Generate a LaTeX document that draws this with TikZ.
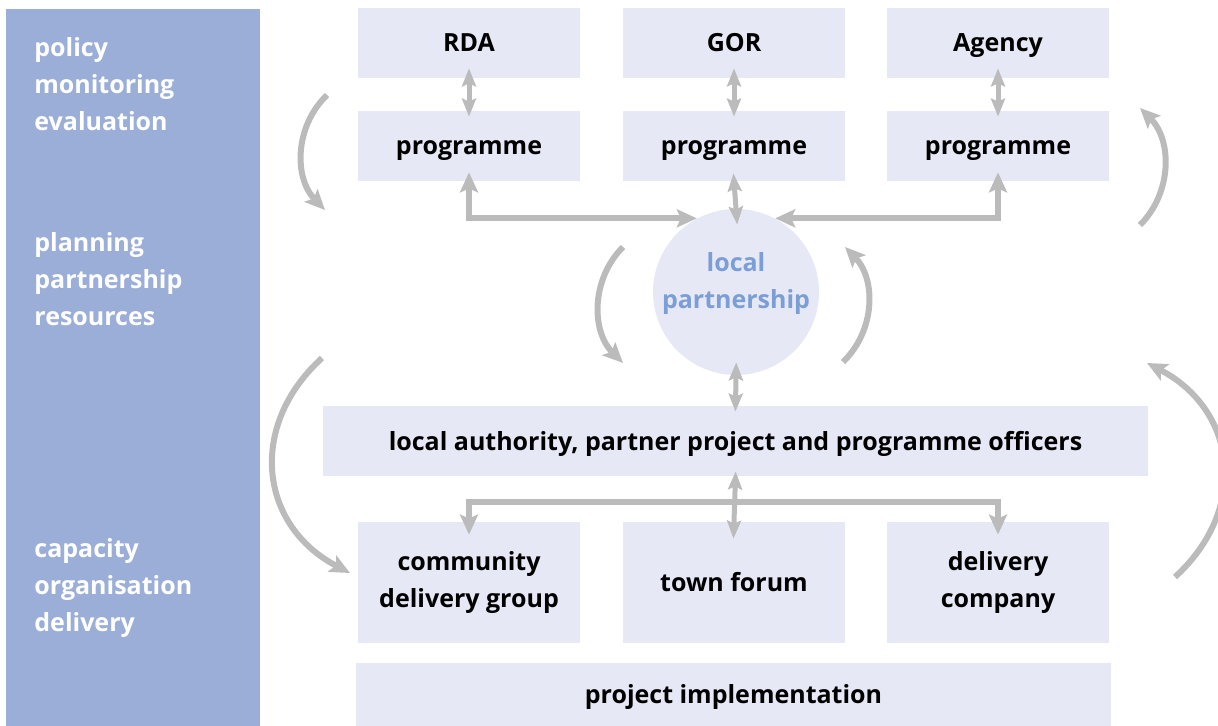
\documentclass[tikz,border=0pt]{standalone}
\usepackage{fontspec}
\setmainfont{Open Sans}
\usepackage{xcolor}
\usepackage{tikz}
\usetikzlibrary{arrows.meta, positioning, calc}

\definecolor{bandblue}{HTML}{9AAED8}
\definecolor{boxfill}{HTML}{E6E9F5}
\definecolor{arrowgray}{HTML}{BBBBBB}
\definecolor{hubblue}{HTML}{7B9ED6}

\begin{document}
\begin{tikzpicture}[
  x=0.5pt, y=-0.5pt,
  every node/.style={font=\fontsize{12.5}{18.5}\selectfont\bfseries},
  box/.style={rectangle, fill=boxfill, inner sep=0pt, align=center,
              minimum width=111pt, minimum height=35pt},
  oneline/.style={text height=11pt, text depth=2pt},
  tallbox/.style={box, minimum height=60.5pt},
  band/.style={rectangle, fill=bandblue, inner sep=0pt,
               minimum width=127pt, minimum height=358.5pt},
  bandtext/.style={white, align=left, anchor=west, inner sep=0pt},
  hub/.style={circle, fill=boxfill, inner sep=0pt, minimum size=83pt},
  arr/.style={->, >={Stealth[length=10pt, width=9pt, inset=2pt]},
              line width=3pt, draw=arrowgray},
  dbl/.style={<->, >={Stealth[length=9pt, width=7pt, inset=1.5pt]},
              line width=2.5pt, draw=arrowgray},
]
  \useasboundingbox (0,0) rectangle (1218,726);

  % left band with the three levels
  \node[band] (band) at (133,367.5) {};
  \node[bandtext] (lvlpolicy)   at (34,84)  {policy\\monitoring\\evaluation};
  \node[bandtext] (lvlplanning) at (34,279) {planning\\partnership\\resources};
  \node[bandtext] (lvlcapacity) at (34,588) {capacity\\organisation\\delivery};

  % top: bodies and their programmes
  \node[box, oneline] (rda)    at (469,43)  {RDA};
  \node[box, oneline] (gor)    at (734,43)  {GOR};
  \node[box, oneline] (agency) at (998,43)  {Agency};
  \node[box, oneline] (prog1)  at (469,146) {programme};
  \node[box, oneline] (prog2)  at (734,146) {programme};
  \node[box, oneline] (prog3)  at (998,146) {programme};

  % middle
  \node[hub] (lp) at (736,292) {};
  \node[text=hubblue, align=center] (lptext) at (736,284) {local\\partnership};
  \node[box, oneline, minimum width=412.5pt] (officers) at (735.5,441)
        {local authority, partner project and programme officers};

  % bottom: delivery bodies
  \node[tallbox] (cdg)   at (469,582.5) {community\\delivery group};
  \node[tallbox, oneline] (forum) at (734,582.5) {town forum};
  \node[tallbox] (dco)   at (998,582.5) {delivery\\company};
  \node[box, oneline, minimum width=377.5pt, minimum height=31.5pt] (impl)
        at (733.5,694.5) {project implementation};

  % Arrows
  \draw[dbl, shorten <=-5pt, shorten >=-3pt] (rda.south)    -- (prog1.north);
  \draw[dbl, shorten <=-5pt, shorten >=-3pt] (gor.south)    -- (prog2.north);
  \draw[dbl, shorten <=-5pt, shorten >=-3pt] (agency.south) -- (prog3.north);
  \draw[dbl, shorten <=-4pt, shorten >=-8pt] (prog2.south)  -- (lp.north);
  \draw[arr, <->, shorten >=-4.5pt] (lp.118) -| (prog1.south);
  \draw[arr, <->, shorten >=-4.5pt] (lp.62)  -| (prog3.south);

  \draw[dbl, shorten <=-6.5pt, shorten >=-3pt] (lp.south) -- (officers.north);
  \draw[dbl, shorten <=-2.5pt, shorten >=-8.5pt] (officers.south) -- (forum.north);
  \coordinate (split) at (736,502);
  \draw[arr, shorten >=-6.5pt] (split) -| (cdg.north);
  \draw[arr, shorten >=-6.5pt] (split) -| (dco.north);

  % feedback loops between the levels
  \coordinate (loopa1) at (327,95);   \coordinate (loopa2) at (325,210);
  \coordinate (loopb1) at (1140,225); \coordinate (loopb2) at (1140,108);
  \coordinate (loopc1) at (623,247);  \coordinate (loopc2) at (623,363);
  \coordinate (loopd1) at (843,362);  \coordinate (loopd2) at (845,247);
  \coordinate (loope1) at (322,358);  \coordinate (loope2) at (350,573);
  \coordinate (loopf1) at (1175,577); \coordinate (loopf2) at (1147,363);
  \draw[arr] (loopa1) to[bend right=45] (loopa2);
  \draw[arr] (loopb1) to[bend right=45] (loopb2);
  \draw[arr] (loopc1) to[bend right=45] (loopc2);
  \draw[arr] (loopd1) to[bend right=45] (loopd2);
  \draw[arr] (loope1) to[bend right=55, looseness=1.2] (loope2);
  \draw[arr] (loopf1) to[bend right=55, looseness=1.2] (loopf2);
\end{tikzpicture}
\end{document}
